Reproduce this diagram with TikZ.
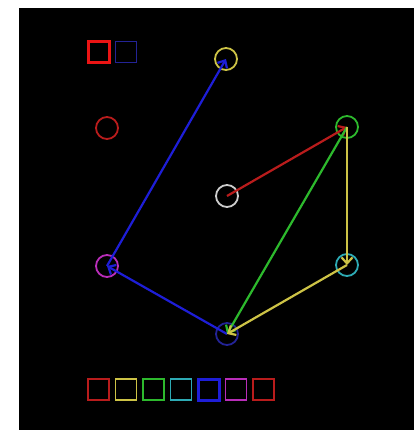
\documentclass[tikz,border=0pt]{standalone}
\usetikzlibrary{arrows.meta}
\definecolor{dkred}{RGB}{185,28,28}
\definecolor{brred}{RGB}{235,20,20}
\definecolor{ylw}{RGB}{205,195,70}
\definecolor{grn}{RGB}{45,185,45}
\definecolor{cyn}{RGB}{45,170,180}
\definecolor{blu}{RGB}{30,30,215}
\definecolor{dkblu}{RGB}{35,35,150}
\definecolor{mag}{RGB}{185,45,185}
\definecolor{lgray}{RGB}{205,205,205}

\begin{document}
\begin{tikzpicture}[x=1pt,y=-1pt,>={Straight Barb[length=6pt,width=11pt]},
  spot/.style={circle,draw,minimum size=22pt,inner sep=0pt,line width=1.8pt},
  swatch/.style={draw,minimum size=21pt,inner sep=0pt,line width=1.8pt},
  link/.style={->,line width=2.2pt}]
\fill[white] (0,0) rectangle (414,430);
\fill[black] (19,8) rectangle (414,430);
% palette at the top
\node[swatch,draw=brred,line width=3.4pt] (pick) at (99,52) {};
\node[swatch,draw=dkblu] (cur) at (126,52) {};
% points
\node[spot,draw=ylw] (top) at (226,59) {};
\node[spot,draw=dkred] (lone) at (107,128) {};
\node[spot,draw=grn] (right) at (347,127) {};
\node[spot,draw=lgray] (mid) at (227,196) {};
\node[spot,draw=mag] (left) at (107,266) {};
\node[spot,draw=cyn] (low) at (347,265) {};
\node[spot,draw=dkblu] (bottom) at (227,334) {};
% arrows
\draw[link,blu] (left.center)--(top.center);
\draw[link,blu] (bottom.center)--(left.center);
\draw[link,dkred] (mid.center)--(right.center);
\draw[link,grn] (right.center)--(bottom.center);
\draw[link,ylw] (right.center)--(low.center);
\draw[link,ylw] (low.center)--(bottom.center);
% colour row
\foreach \c/\w [count=\i] in {dkred/1.8,ylw/1.8,grn/1.8,cyn/1.8,blu/3,mag/1.8,dkred/1.8}
  \node[swatch,draw=\c,line width=\w pt] (sw\i) at (71+27.5*\i,389.5) {};
\end{tikzpicture}
\end{document}
